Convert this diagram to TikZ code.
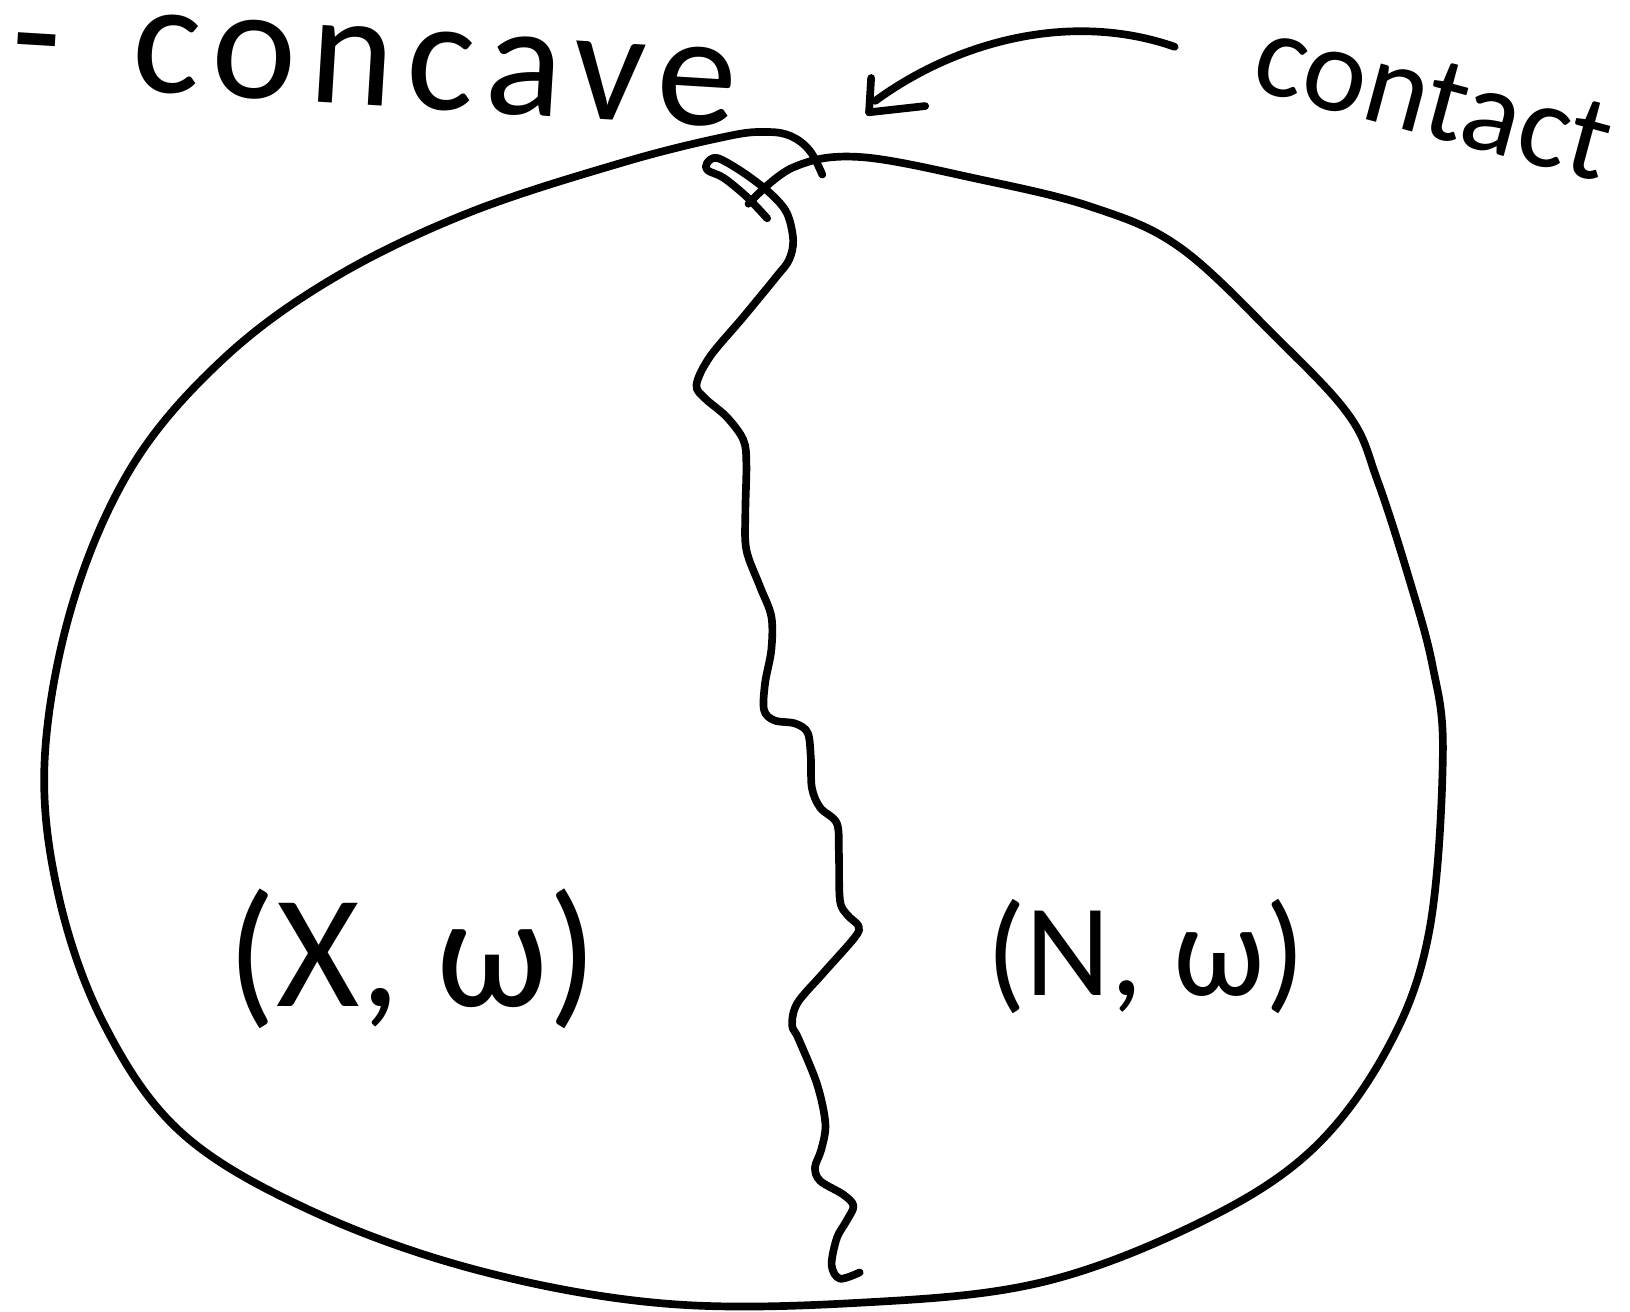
\documentclass[tikz,border=0pt]{standalone}
\usepackage{fontspec}
\setsansfont{Carlito}
\usepackage{tkz-euclide}
\usetikzlibrary{arrows,calc}
\definecolor{SketchClr}{rgb}{0,0,0}

\begin{document}
\begin{tikzpicture}[x=.01cm,y=-.01cm,
  sketch/.style={line width=2.1pt,color=SketchClr,line cap=round,line join=round},
  hand/.style={font=\sffamily\fontsize{#1}{#1}\selectfont,inner sep=0pt,text=SketchClr}]
\tkzSetUpLine[line width=2.1pt,color=SketchClr]
\useasboundingbox (0,0) rectangle (1568,1262);

\tkzDefPoints{1130/45/ArrS,842/97/ArrE,838/75/TipA,836/108/TipC,890/102/TipB}

% outline of the region, one stroke crossing itself at the top
\draw[sketch] plot[smooth,tension=.6] coordinates {(791,168) (779,145) (761,131) (738,127)
  (700,131) (600,156) (450,205) (320,268) (215,345) (128,447) (70,580) (43,730) (56,860)
  (100,985) (175,1090) (300,1165) (460,1222) (640,1254) (830,1253) (1000,1234) (1150,1178)
  (1260,1108) (1335,1008) (1375,895) (1388,725) (1378,640) (1355,555) (1325,462)
  (1298,400) (1228,325) (1135,238) (1050,199) (940,172) (827,151) (763,161) (720,196)};

% wavy contact curve
\draw[sketch] plot[smooth,tension=.55] coordinates {(738,210) (718,189) (696,171) (681,164)
  (680,157) (690,152) (715,166) (741,186) (757,205) (763,231) (759,250) (747,266) (715,305)
  (683,343) (670,370) (678,383) (699,401) (715,423) (718,446) (717,493) (718,529) (731,564)
  (742,593) (742,625) (736,657) (735,683) (745,693) (765,696) (777,705) (780,729) (781,758)
  (789,777) (805,792) (807,821) (808,866) (815,880) (826,891) (822,902) (792,936) (767,965)
  (762,986) (768,999) (786,1043) (794,1081) (790,1106) (784,1123) (789,1136) (811,1149)
  (821,1160) (814,1175) (805,1191) (800,1217) (808,1230) (827,1224)};

% arrow to the contact point
\draw[sketch] (ArrS) .. controls (1030,10) and (920,40) .. (ArrE);
\tkzDrawSegments[line width=2.1pt,line cap=round,line join=round](TipA,TipC TipC,TipB)

\node[hand=44,anchor=base west,rotate=-3.5] (lblConcave) at (8,80)
  {\addfontfeature{LetterSpace=8}-\hskip.45em concave};
\node[hand=33,anchor=base,rotate=-15] (lblContact) at (1370,130) {contact};

\node[hand=44,anchor=base] (lblX) at (397,968) {(X, ω)};
\node[hand=36,anchor=base] (lblN) at (1102,958) {(N, ω)};

\end{tikzpicture}
\end{document}
